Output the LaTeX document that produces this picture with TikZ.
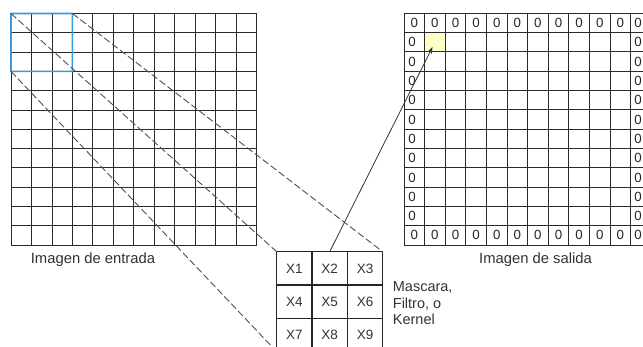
\documentclass[tikz,border=0pt]{standalone}
\usepackage{fontspec}
\setmainfont{Liberation Sans}
\usetikzlibrary{arrows.meta}
\definecolor{gridc}{HTML}{2A2A2A}
\definecolor{blueb}{HTML}{3A9AD9}
\definecolor{yelc}{HTML}{FFFFC8}
\definecolor{dashc}{HTML}{505050}
\definecolor{txtc}{HTML}{333333}
\tikzset{
  gridln/.style={draw=gridc, line width=0.85pt},
  winbox/.style={inner sep=0pt, outer sep=0pt, minimum width=61.4pt, minimum height=57.9pt},
  winfill/.style={fill=blueb, even odd rule},
  kcell/.style={draw=black!85, fill=white, line width=1.1pt, inner sep=0pt, outer sep=0pt, minimum width=35.33pt, minimum height=33.33pt, text=txtc, font=\fontsize{13.5}{14}\selectfont},
  zero/.style={inner sep=0pt, text=black!85, font=\fontsize{13.3}{13}\selectfont},
  proj/.style={draw=dashc, line width=0.9pt, dash pattern=on 7pt off 3pt},
  caption/.style={text=txtc, font=\fontsize{14.8}{17}\selectfont, inner sep=0pt},
  ptr/.style={draw=txtc, line width=0.8pt, -{Stealth[length=7pt,width=5pt]}}
}
\begin{document}
\begin{tikzpicture}[x=1pt,y=-1pt]
\clip (0,0) rectangle (643,347);
\fill[white] (0,0) rectangle (643,347);
% input grid
\foreach \i in {0,...,12} {
  \draw[gridln] ({11+\i*20.475},13.5) -- ({11+\i*20.475},245);
}
\foreach \i in {0,...,12} {
  \draw[gridln] (11,{13.5+\i*19.29}) -- (256.7,{13.5+\i*19.29});
}
\node[winbox] (win) at (41.7,42.45) {};
\fill[winfill] (10.2,12.7) rectangle (73.2,72.2) (11.8,14.3) rectangle (71.6,70.6);
\node[caption] (lin) at (93,260) {Imagen de entrada};
% output grid
\fill[yelc] (424.6,32.6) rectangle (445.2,51.9);
\node[inner sep=0pt, outer sep=0pt, minimum width=20.6pt, minimum height=19.29pt] (o11) at (434.9,42.25) {};
\foreach \i in {0,...,12} {
  \draw[gridln] ({404+\i*20.6},13.3) -- ({404+\i*20.6},245);
}
\foreach \i in {0,...,12} {
  \draw[gridln] (404,{13.3+\i*19.31}) -- (651.2,{13.3+\i*19.31});
}
\foreach \c in {0,...,10} {
  \node[zero] (zt\c) at ({414.3+\c*20.6},23) {0};
  \node[zero] (zb\c) at ({414.3+\c*20.6},235.4) {0};
}
\node[zero] (zt11) at (638,23) {0};
\node[zero] (zb11) at (638,235.4) {0};
\foreach \r in {1,...,10} {
  \node[zero] (zl\r) at (412,{23+\r*19.31}) {0};
  \node[zero] (zr\r) at (638,{23+\r*19.31}) {0};
}
\node[caption] (lout) at (535.5,260) {Imagen de salida};
% kernel
\foreach \r in {1,2,3} {
  \foreach \c in {1,2,3} {
    \pgfmathtruncatemacro{\n}{(\r-1)*3+\c}
    \node[kcell] (k\r\c) at ({276.7+(\c-0.5)*35.33},{251.7+(\r-0.5)*33.33}) {X\n};
  }
}
\node[anchor=north west, align=left, inner sep=0pt, text=txtc, font=\fontsize{14.5}{16.5}\selectfont] (klab) at (392.7,281.6) {Mascara,\\Filtro, o\\Kernel};
% projection lines
\draw[proj] (win.north west) -- (k11.north west);
\draw[proj] (win.north east) -- (k13.north east);
\draw[proj] (win.south west) -- (k31.south west);
% pointer
\coordinate (tip) at (432.5,47);
\draw[ptr] (k12.north) -- (tip);
\end{tikzpicture}
\end{document}
